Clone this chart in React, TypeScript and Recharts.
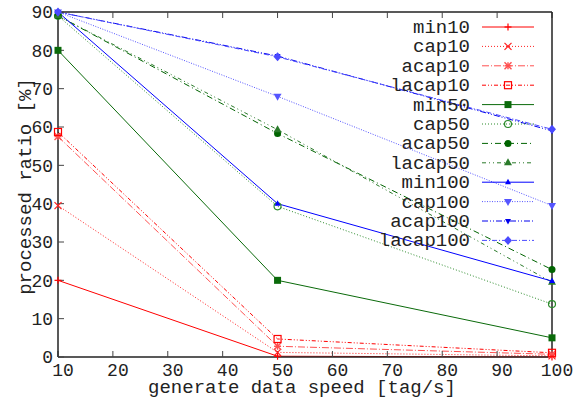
import React from "react";
import { LineChart, Line, XAxis, YAxis, Label } from "recharts";

// generate data speed [tag/s]
const speeds = [10, 50, 100];

// processed ratio [%] per series
const min10 = [20, 0.2, 0];
const cap10 = [39.5, 1.2, 0.3];
const acap10 = [57.5, 2.8, 0.7];
const lacap10 = [58.7, 4.7, 1.1];
const min50 = [80, 20, 5];
const cap50 = [89, 39.3, 13.8];
const acap50 = [89, 58.3, 22.8];
const lacap50 = [89, 59.3, 19.5];
const min100 = [90, 40, 19.8];
const cap100 = [90, 68, 39.5];
const acap100 = [90, 78.5, 59];
const lacap100 = [90, 78.3, 59.4];

const xTicks = [10, 20, 30, 40, 50, 60, 70, 80, 90, 100];
const yTicks = [0, 10, 20, 30, 40, 50, 60, 70, 80, 90];

const FONT = "'Liberation Mono', 'DejaVu Sans Mono', monospace";
const FS = 19;
const INK = "#222";

type MarkerType =
	| "plus"
	| "cross"
	| "star"
	| "squareOpen"
	| "square"
	| "circleOpen"
	| "circle"
	| "triUp"
	| "triUpSmall"
	| "triDown"
	| "triDownSmall"
	| "diamond";

interface Series {
	name: string;
	values: number[];
	color: string;
	dash?: string;
	marker: MarkerType;
}

const series: Series[] = [
	{ name: "min10", values: min10, color: "#ff0000", marker: "plus" },
	{ name: "cap10", values: cap10, color: "#ff2020", dash: "1 2", marker: "cross" },
	{ name: "acap10", values: acap10, color: "#ff5050", dash: "7 2 1 2", marker: "star" },
	{ name: "lacap10", values: lacap10, color: "#ff0000", dash: "4 2 1 2 1 2", marker: "squareOpen" },
	{ name: "min50", values: min50, color: "#0a6a0a", marker: "square" },
	{ name: "cap50", values: cap50, color: "#2a8a2a", dash: "1 2", marker: "circleOpen" },
	{ name: "acap50", values: acap50, color: "#006400", dash: "6 3 1 3", marker: "circle" },
	{ name: "lacap50", values: lacap50, color: "#2a7a2a", dash: "4 3 1 3 1 3", marker: "triUp" },
	{ name: "min100", values: min100, color: "#0000ff", marker: "triUpSmall" },
	{ name: "cap100", values: cap100, color: "#5555ff", dash: "1 1.5", marker: "triDown" },
	{ name: "acap100", values: acap100, color: "#0000ee", dash: "6 2 1 2 1 2", marker: "triDownSmall" },
	{ name: "lacap100", values: lacap100, color: "#4a4aff", dash: "5 2 1 2", marker: "diamond" },
];

const rows = speeds.map((s, i) => {
	const row: Record<string, number> = { speed: s };
	series.forEach((sr) => {
		row[sr.name] = sr.values[i];
	});
	return row;
});

function Marker({ type, cx, cy, color }: { type: MarkerType; cx: number; cy: number; color: string }) {
	const r = 3.5;
	switch (type) {
		case "plus":
			return (
				<g stroke={color} strokeWidth={1.2}>
					<line x1={cx - r} y1={cy} x2={cx + r} y2={cy} />
					<line x1={cx} y1={cy - r} x2={cx} y2={cy + r} />
				</g>
			);
		case "cross":
			return (
				<g stroke={color} strokeWidth={1.2}>
					<line x1={cx - r} y1={cy - r} x2={cx + r} y2={cy + r} />
					<line x1={cx - r} y1={cy + r} x2={cx + r} y2={cy - r} />
				</g>
			);
		case "star":
			return (
				<g stroke={color} strokeWidth={1.4}>
					<line x1={cx - r} y1={cy} x2={cx + r} y2={cy} />
					<line x1={cx} y1={cy - r} x2={cx} y2={cy + r} />
					<line x1={cx - r} y1={cy - r} x2={cx + r} y2={cy + r} />
					<line x1={cx - r} y1={cy + r} x2={cx + r} y2={cy - r} />
				</g>
			);
		case "squareOpen":
			return <rect x={cx - r} y={cy - r} width={2 * r} height={2 * r} fill="none" stroke={color} strokeWidth={1.2} />;
		case "square":
			return <rect x={cx - r} y={cy - r} width={2 * r} height={2 * r} fill={color} stroke="none" />;
		case "circleOpen":
			return <circle cx={cx} cy={cy} r={r} fill="none" stroke={color} strokeWidth={1.2} />;
		case "circle":
			return <circle cx={cx} cy={cy} r={r} fill={color} stroke="none" />;
		case "triUp":
			return <polygon points={`${cx},${cy - 4.5} ${cx + 4},${cy + 2.5} ${cx - 4},${cy + 2.5}`} fill={color} />;
		case "triUpSmall":
			return <polygon points={`${cx},${cy - 3.5} ${cx + 3},${cy + 2} ${cx - 3},${cy + 2}`} fill={color} />;
		case "triDown":
			return <polygon points={`${cx},${cy + 4.5} ${cx + 4},${cy - 2.5} ${cx - 4},${cy - 2.5}`} fill={color} />;
		case "triDownSmall":
			return <polygon points={`${cx},${cy + 3.5} ${cx + 3},${cy - 2} ${cx - 3},${cy - 2}`} fill={color} />;
		case "diamond":
			return <polygon points={`${cx},${cy - 4.5} ${cx + 4},${cy} ${cx},${cy + 4.5} ${cx - 4},${cy}`} fill={color} />;
	}
	return null;
}

const makeDot = (sr: Series) => (props: any) => {
	const { cx, cy, index } = props;
	if (cx == null || cy == null) return <g key={`${sr.name}-${index}`} />;
	return (
		<g key={`${sr.name}-${index}`}>
			<Marker type={sr.marker} cx={cx} cy={cy} color={sr.color} />
		</g>
	);
};

const tickStyle = { fontSize: 18, fontFamily: FONT, fill: INK };

function XLabel(props: any) {
	const vb = props.viewBox;
	return (
		<text x={vb.x + vb.width / 2 - 3} y={vb.y + 36} textAnchor="middle" fontSize={FS} fontFamily={FONT} fill={INK}>
			generate data speed [tag/s]
		</text>
	);
}

function YLabel(props: any) {
	const vb = props.viewBox;
	const cx = 31;
	const cy = vb.y + vb.height / 2 + 2;
	return (
		<text x={cx} y={cy} transform={`rotate(-90 ${cx} ${cy})`} textAnchor="middle" fontSize={FS} fontFamily={FONT} fill={INK}>
			processed ratio [%]
		</text>
	);
}

function KeyBox() {
	const textRight = 470;
	const lineL = 482;
	const lineR = 534;
	const top = 27;
	const step = 19.4;
	return (
		<svg width={579} height={399} style={{ position: "absolute", left: 0, top: 0, pointerEvents: "none" }}>
			{series.map((sr, i) => {
				const y = top + i * step;
				return (
					<g key={sr.name}>
						<text x={textRight} y={y + 6} textAnchor="end" fontSize={FS} fontFamily={FONT} fill={INK}>
							{sr.name}
						</text>
						<line x1={lineL} y1={y} x2={lineR} y2={y} stroke={sr.color} strokeWidth={1} strokeDasharray={sr.dash} />
						<Marker type={sr.marker} cx={(lineL + lineR) / 2} cy={y} color={sr.color} />
					</g>
				);
			})}
		</svg>
	);
}

export default function App() {
	return (
		<div style={{ position: "absolute", left: 0, top: 0, width: 579, height: 399, background: "#fff" }}>
			<LineChart width={579} height={399} data={rows} margin={{ top: 0, right: 0, bottom: 0, left: 0 }}>
				<XAxis
					xAxisId="bottom"
					dataKey="speed"
					type="number"
					domain={[10, 100]}
					ticks={xTicks}
					interval={0}
					height={42}
					tickSize={-6}
					tickMargin={12}
					axisLine={{ stroke: INK, strokeWidth: 1.5 }}
					tickLine={{ stroke: "#444" }}
					tick={{ ...tickStyle, dx: 5 }}
				>
					<Label content={XLabel} />
				</XAxis>
				<XAxis
					xAxisId="top"
					orientation="top"
					dataKey="speed"
					type="number"
					domain={[10, 100]}
					ticks={xTicks}
					interval={0}
					height={12}
					tickSize={-6}
					axisLine={{ stroke: INK, strokeWidth: 1.5 }}
					tickLine={{ stroke: "#444" }}
					tickFormatter={() => ""}
				/>
				<YAxis
					yAxisId="left"
					type="number"
					domain={[0, 90]}
					ticks={yTicks}
					interval={0}
					width={58}
					tickSize={-6}
					tickMargin={11}
					axisLine={{ stroke: INK, strokeWidth: 1.5 }}
					tickLine={{ stroke: "#444" }}
					tick={tickStyle}
				>
					<Label content={YLabel} />
				</YAxis>
				<YAxis
					yAxisId="right"
					orientation="right"
					type="number"
					domain={[0, 90]}
					ticks={yTicks}
					interval={0}
					width={27}
					tickSize={-6}
					axisLine={{ stroke: INK, strokeWidth: 1.5 }}
					tickLine={{ stroke: "#444" }}
					tickFormatter={() => ""}
				/>
				{series.map((sr) => (
					<Line
						key={sr.name}
						xAxisId="bottom"
						yAxisId="left"
						dataKey={sr.name}
						type="linear"
						stroke={sr.color}
						strokeWidth={1}
						strokeDasharray={sr.dash}
						dot={makeDot(sr)}
						activeDot={false}
						isAnimationActive={false}
					/>
				))}
			</LineChart>
			<KeyBox />
		</div>
	);
}
